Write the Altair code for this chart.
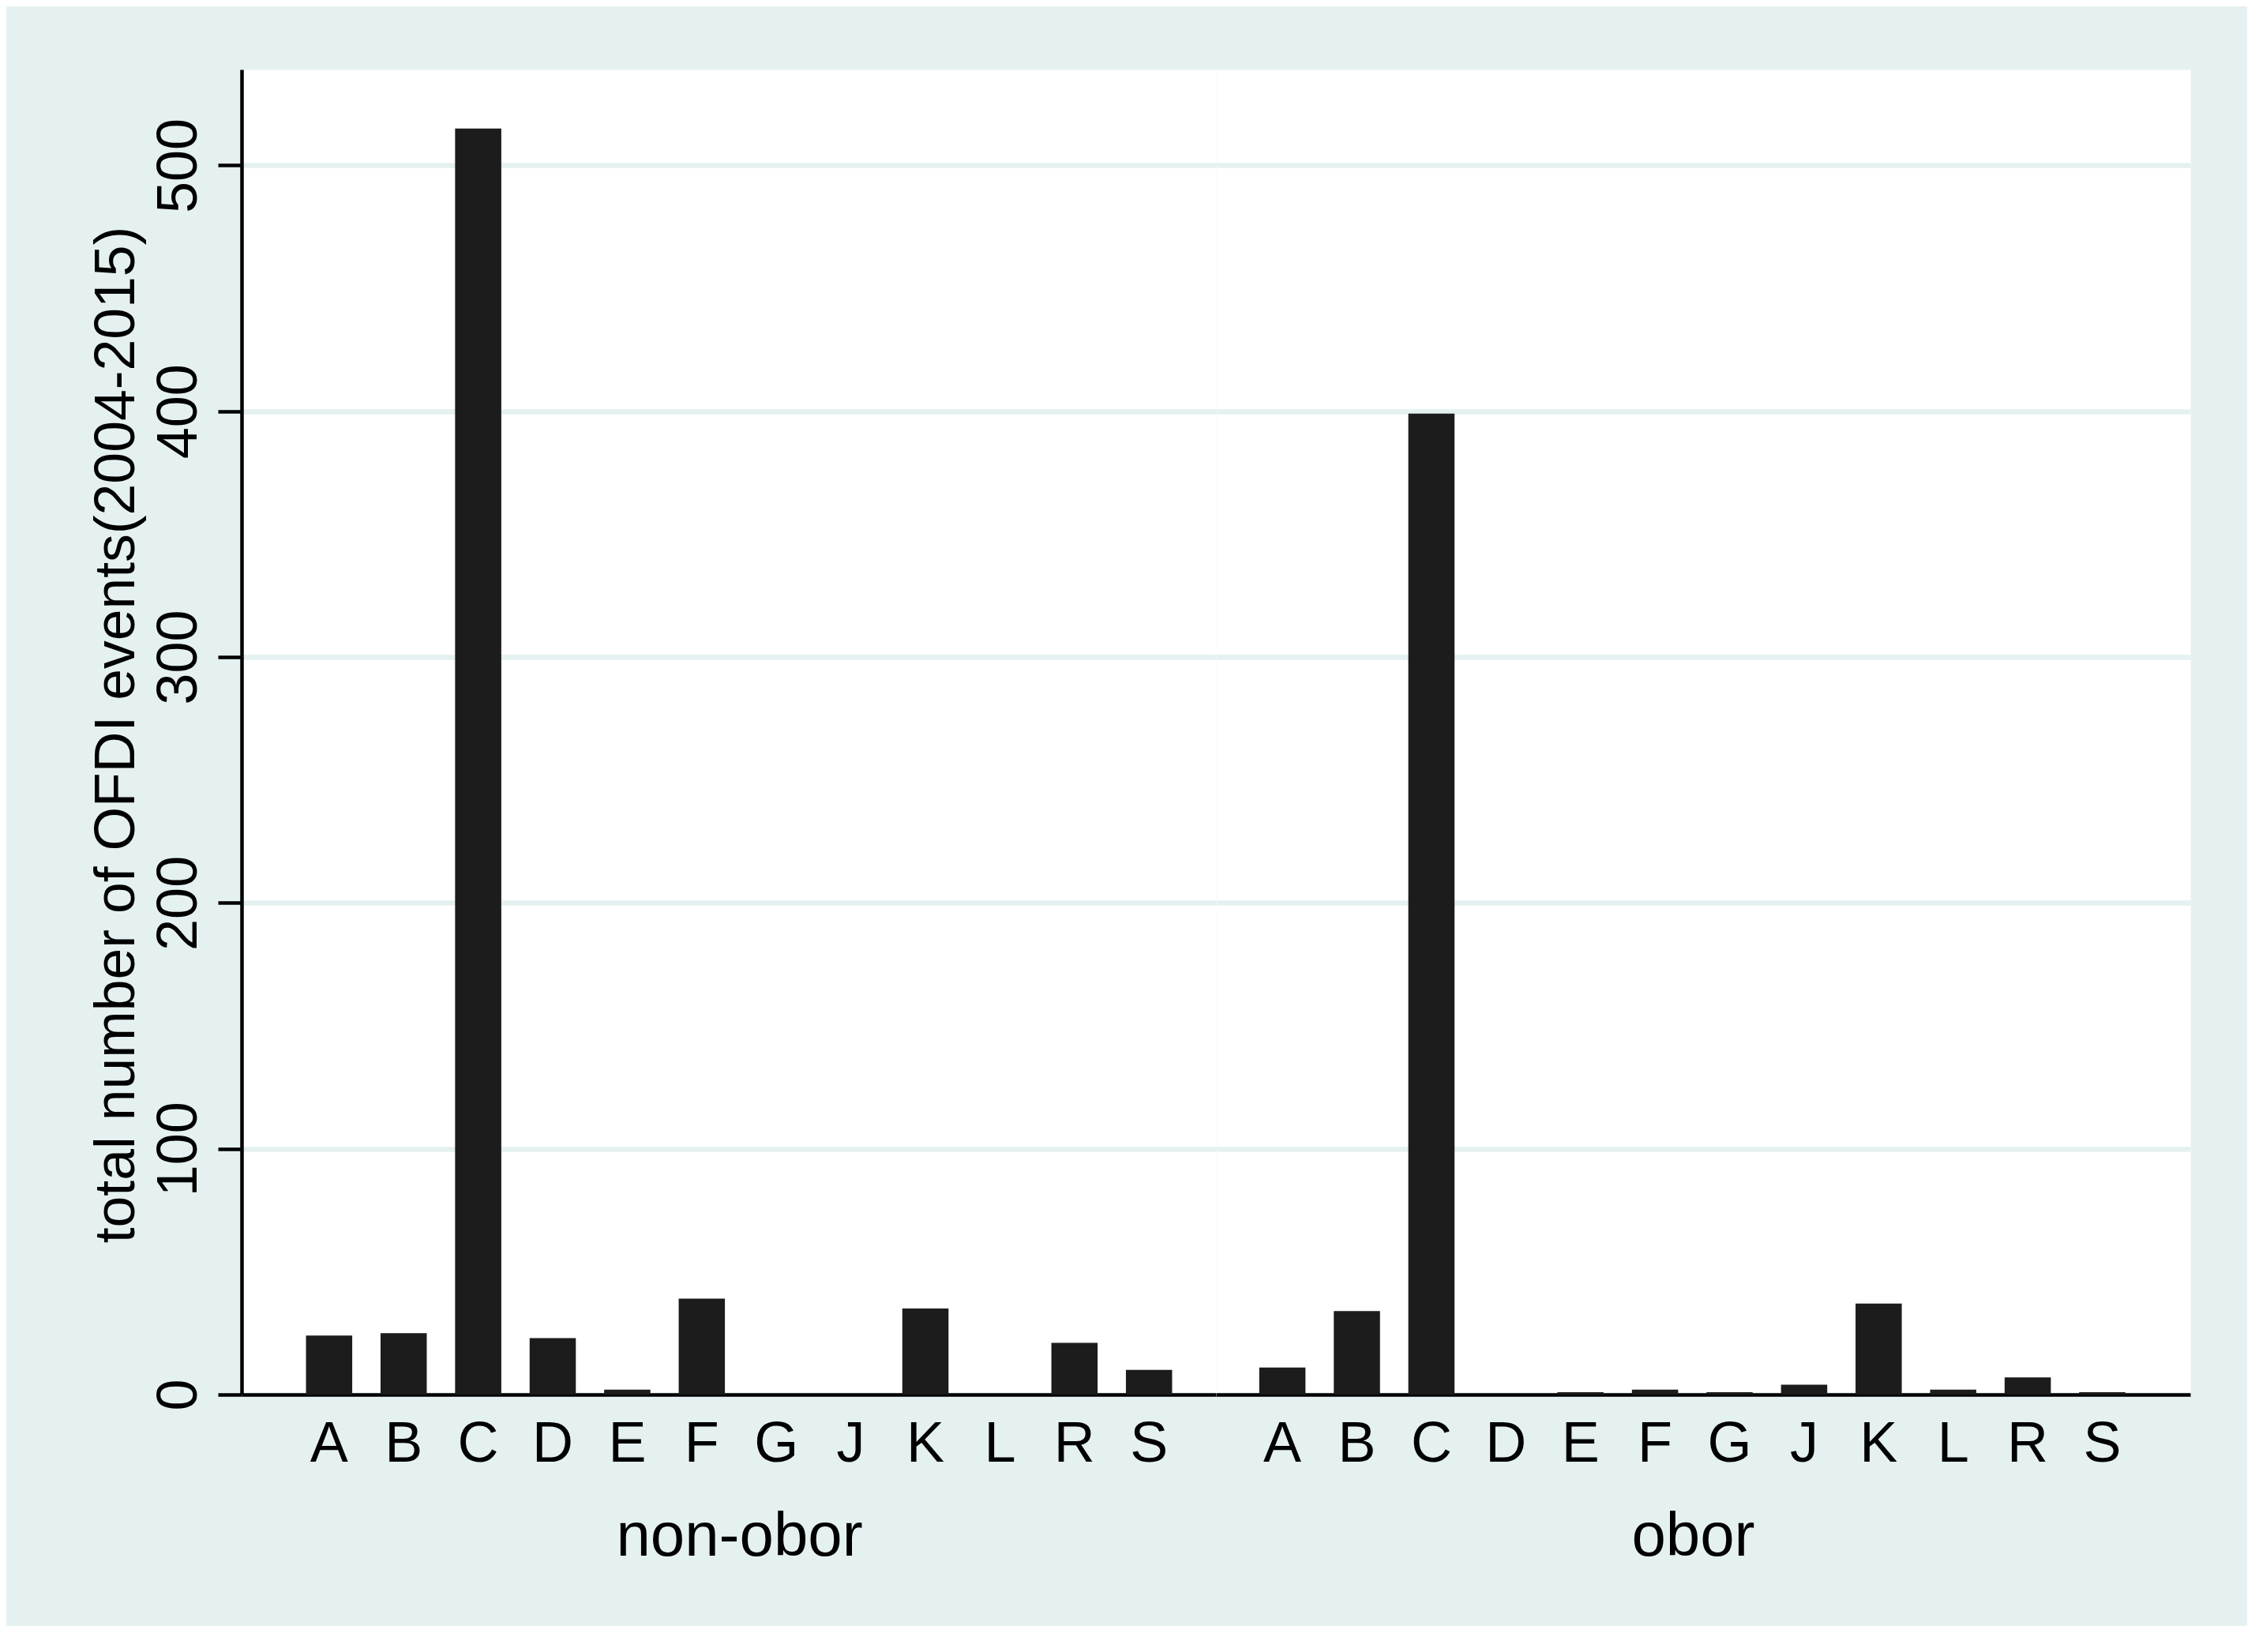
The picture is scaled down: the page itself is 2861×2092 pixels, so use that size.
import altair as alt
import pandas as pd

# ---- data ----
industries = ["A", "B", "C", "D", "E", "F", "G", "J", "K", "L", "R", "S"]
non_obor_events = [24, 25, 515, 23, 2, 39, 0, 0, 35, 0, 21, 10]
obor_events = [11, 34, 399, 0, 1, 2, 1, 4, 37, 2, 7, 1]
group_labels = ["non-obor", "obor"]
y_ticks = [0, 100, 200, 300, 400, 500]
y_title = "total number of OFDI events(2004-2015)"

FONT = "Liberation Sans"
BG = "#e5f1f1"
BAR = "#1c1c1c"
Y_DOMAIN = [0, 539]

df_non = pd.DataFrame({"industry": industries, "events": non_obor_events})
df_obor = pd.DataFrame({"industry": industries, "events": obor_events})


def panel(df, title, align, title_x, show_y):
    if show_y:
        yaxis = alt.Axis(
            title=y_title, values=y_ticks, labelAngle=270, labelAlign="center",
            labelBaseline="alphabetic", labelPadding=28, labelFontSize=72,
            labelFont=FONT, labelColor="black", labelFlush=False, labelOverlap=False,
            tickSize=30, tickWidth=4.5, tickColor="black",
            domainColor="black", domainWidth=4.5,
            grid=True, gridColor=BG, gridWidth=6.5,
            titleFont=FONT, titleFontSize=71.5, titleFontWeight="normal",
            titleColor="black", titleAngle=270, titleAlign="center",
            titleBaseline="alphabetic", titleX=-137, titleY=842,
        )
    else:
        yaxis = alt.Axis(
            title=None, values=y_ticks, labels=False, ticks=False, domain=False,
            grid=True, gridColor=BG, gridWidth=6.5,
        )
    return (
        alt.Chart(df)
        .mark_bar(color=BAR)
        .encode(
            x=alt.X(
                "industry:N", sort=industries,
                scale=alt.Scale(paddingInner=0.38, paddingOuter=0.726, align=align),
                axis=alt.Axis(
                    title=title, labelAngle=0, ticks=False, tickSize=0,
                    labelPadding=27, labelFontSize=72, labelFont=FONT,
                    labelColor="black", domainColor="black", domainWidth=4.5,
                    grid=False, titleFont=FONT, titleFontSize=78,
                    titleFontWeight="normal", titleColor="black",
                    titleX=title_x, titleY=203.5, titleBaseline="alphabetic",
                    titleAlign="center",
                ),
            ),
            y=alt.Y(
                "events:Q",
                scale=alt.Scale(domain=Y_DOMAIN, nice=False, zero=True),
                axis=yaxis,
            ),
        )
        .properties(width=1234, height=1678)
    )


left = panel(df_non, group_labels[0], 0.595, 630, True)
right = panel(df_obor, group_labels[1], 0.40, 604, False)

chart = (
    alt.hconcat(left, right, spacing=0, bounds="flush")
    .resolve_scale(y="shared")
    .properties(
        background=BG,
        padding={"left": 103, "top": 79, "right": 71, "bottom": 73},
    )
    .configure_view(stroke="transparent", fill="white")
)

chart.save("out.html", embed_options={"renderer": "svg", "actions": False})
